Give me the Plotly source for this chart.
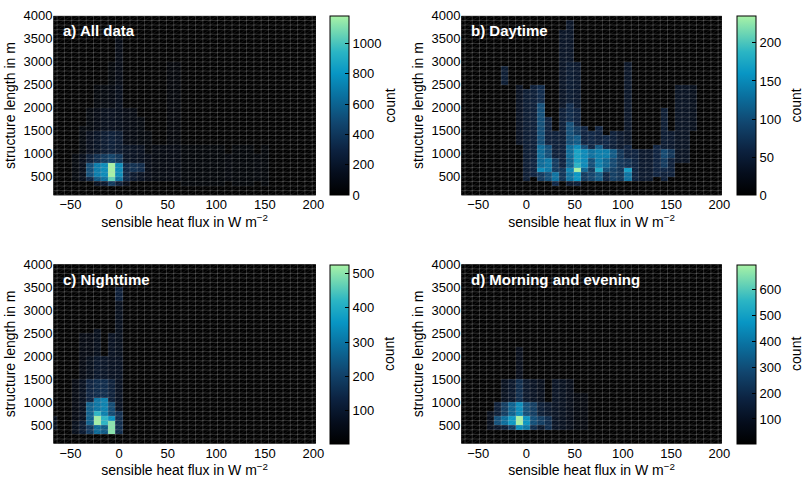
import numpy as np
import plotly.graph_objects as go

# Histogram grid: sensible heat flux bins (W m-2) and structure length bins (m)
flux_centres = np.arange(-67.5, 202.5 + 0.1, 7.5)
length_centres = np.arange(50, 4000, 100)

# Counts per bin, given as vertical runs: (flux bin centre, length from, length to, count)
all_data_runs = [
    (-45, 400, 1000, 60),
    (-37.5, 400, 1000, 120), (-37.5, 1000, 1600, 60),
    (-30, 400, 500, 300), (-30, 500, 800, 500), (-30, 800, 1000, 250), (-30, 1000, 1500, 130), (-30, 1500, 2000, 60),
    (-22.5, 300, 400, 150), (-22.5, 400, 500, 550), (-22.5, 500, 800, 700), (-22.5, 800, 1000, 350),
    (-22.5, 1000, 1500, 170), (-22.5, 1500, 2000, 90), (-22.5, 2000, 2500, 50),
    (-15, 300, 400, 200), (-15, 400, 500, 650), (-15, 500, 800, 760), (-15, 800, 1000, 400),
    (-15, 1000, 1500, 220), (-15, 1500, 2000, 120), (-15, 2000, 2500, 60),
    (-7.5, 300, 400, 400), (-7.5, 400, 500, 1050), (-7.5, 500, 800, 1180), (-7.5, 800, 1000, 450),
    (-7.5, 1000, 1500, 250), (-7.5, 1500, 2000, 130), (-7.5, 2000, 2500, 70), (-7.5, 2500, 3000, 40),
    (0, 300, 400, 250), (0, 400, 500, 650), (0, 500, 800, 750), (0, 800, 1000, 380),
    (0, 1000, 1500, 220), (0, 1500, 2500, 120), (0, 2500, 3600, 90),
    (7.5, 300, 400, 100), (7.5, 400, 800, 300), (7.5, 800, 1200, 160), (7.5, 1200, 2000, 80),
    (15, 400, 600, 200), (15, 600, 800, 350), (15, 800, 1200, 150), (15, 1200, 2000, 70),
    (22.5, 400, 600, 150), (22.5, 600, 800, 320), (22.5, 800, 1200, 140), (22.5, 1200, 1800, 60),
    (30, 400, 1000, 100), (30, 1000, 1500, 50),
    (37.5, 400, 1200, 70), (45, 400, 1200, 70),
    (52.5, 400, 1200, 80), (52.5, 1200, 3000, 45),
    (60, 400, 1200, 80), (60, 1200, 3000, 45),
    (67.5, 300, 1200, 40), (75, 300, 1200, 40), (82.5, 300, 1200, 40), (90, 300, 1200, 40),
    (97.5, 300, 1200, 40), (105, 300, 1200, 40), (112.5, 400, 1000, 55), (120, 300, 1200, 40),
    (127.5, 300, 1200, 40), (135, 300, 1200, 40), (142.5, 400, 1000, 50), (150, 300, 1200, 40),
]

daytime_runs = [
    (-22.5, 2500, 2900, 45),
    (-7.5, 1200, 2500, 30),
    (0, 400, 600, 45), (0, 600, 2400, 45),
    (7.5, 500, 900, 55), (7.5, 900, 2500, 50),
    (15, 400, 600, 80), (15, 600, 700, 150), (15, 700, 1200, 125), (15, 1200, 2100, 100), (15, 2100, 2500, 65),
    (22.5, 400, 600, 100), (22.5, 600, 900, 135), (22.5, 900, 1200, 100), (22.5, 1200, 1800, 55),
    (30, 300, 400, 60), (30, 400, 600, 130), (30, 600, 900, 80), (30, 900, 1500, 50),
    (37.5, 400, 700, 75), (37.5, 700, 1200, 55), (37.5, 1200, 2000, 50), (37.5, 2000, 3700, 35),
    (45, 300, 400, 40), (45, 400, 600, 130), (45, 600, 700, 145), (45, 700, 900, 115), (45, 900, 1200, 125),
    (45, 1200, 1700, 100), (45, 1700, 2100, 65), (45, 2100, 3000, 45), (45, 3000, 3900, 35),
    (52.5, 300, 400, 50), (52.5, 400, 600, 160), (52.5, 600, 700, 235), (52.5, 700, 800, 185),
    (52.5, 800, 1100, 170), (52.5, 1100, 1200, 150), (52.5, 1200, 1400, 110), (52.5, 1400, 1600, 80),
    (52.5, 1600, 2000, 55), (52.5, 2000, 3000, 40),
    (60, 400, 600, 80), (60, 600, 700, 120), (60, 700, 1100, 150), (60, 1100, 1200, 100), (60, 1200, 1600, 55),
    (67.5, 400, 600, 90), (67.5, 600, 700, 80), (67.5, 700, 900, 100), (67.5, 900, 1100, 130), (67.5, 1100, 1500, 60),
    (75, 400, 600, 110), (75, 600, 700, 175), (75, 700, 1100, 140), (75, 1100, 1200, 110), (75, 1200, 1600, 55),
    (82.5, 400, 600, 60), (82.5, 600, 700, 100), (82.5, 700, 900, 120), (82.5, 900, 1100, 140), (82.5, 1100, 1400, 60),
    (90, 400, 700, 85), (90, 700, 900, 95), (90, 900, 1100, 110), (90, 1100, 1500, 50),
    (97.5, 400, 1100, 75), (97.5, 1100, 1500, 40),
    (105, 400, 600, 130), (105, 600, 700, 165), (105, 700, 900, 70), (105, 900, 1200, 55), (105, 1200, 3000, 35),
    (112.5, 400, 1100, 55), (120, 400, 1100, 40), (127.5, 400, 1100, 40),
    (135, 500, 1200, 55),
    (142.5, 400, 600, 50), (142.5, 600, 700, 60), (142.5, 700, 900, 80), (142.5, 900, 1100, 95), (142.5, 1100, 2000, 45),
    (150, 500, 900, 50), (150, 900, 1100, 75), (150, 1100, 1500, 40),
    (157.5, 800, 2500, 32), (165, 800, 2500, 32), (172.5, 1500, 2500, 25),
]

nighttime_runs = [
    (-67.5, 400, 700, 60),
    (-45, 300, 600, 60), (-45, 600, 1500, 40),
    (-37.5, 300, 600, 100), (-37.5, 600, 1500, 70), (-37.5, 1500, 2500, 40),
    (-30, 300, 500, 180), (-30, 500, 1000, 260), (-30, 1000, 1500, 130), (-30, 1500, 2000, 60), (-30, 2000, 2500, 40),
    (-22.5, 300, 500, 280), (-22.5, 500, 700, 520), (-22.5, 700, 800, 420), (-22.5, 800, 1100, 300),
    (-22.5, 1100, 1500, 150), (-22.5, 1500, 2000, 90), (-22.5, 2000, 2600, 60),
    (-15, 300, 500, 250), (-15, 500, 700, 420), (-15, 700, 1100, 320), (-15, 1100, 1500, 150), (-15, 1500, 2000, 80),
    (-7.5, 300, 600, 500), (-7.5, 600, 700, 350), (-7.5, 700, 1000, 220), (-7.5, 1000, 1500, 120), (-7.5, 1500, 2500, 70),
    (0, 300, 800, 150), (0, 800, 2000, 70), (0, 2000, 3200, 60), (0, 3200, 3500, 110),
]

morning_evening_runs = [
    (-37.5, 400, 800, 80),
    (-30, 400, 500, 120), (-30, 500, 700, 300), (-30, 700, 1000, 150),
    (-22.5, 400, 500, 150), (-22.5, 500, 700, 380), (-22.5, 700, 1000, 250), (-22.5, 1000, 1500, 90),
    (-15, 400, 500, 250), (-15, 500, 700, 480), (-15, 700, 1000, 350), (-15, 1000, 1500, 120),
    (-7.5, 400, 500, 450), (-7.5, 500, 700, 695), (-7.5, 700, 1000, 450), (-7.5, 1000, 1500, 200), (-7.5, 1500, 2200, 70),
    (0, 400, 500, 400), (0, 500, 700, 470), (0, 700, 1000, 300), (0, 1000, 1500, 120),
    (7.5, 400, 500, 200), (7.5, 500, 700, 300), (7.5, 700, 1000, 250), (7.5, 1000, 1500, 100),
    (15, 400, 500, 120), (15, 500, 700, 250), (15, 700, 1000, 150), (15, 1000, 1500, 80),
    (22.5, 400, 700, 200), (22.5, 700, 1000, 120),
    (30, 400, 1500, 100), (37.5, 400, 1500, 90), (45, 400, 1500, 70),
    (52.5, 400, 1200, 40), (60, 400, 1200, 40),
]

panel_titles = ["a) All data", "b) Daytime", "c) Nighttime", "d) Morning and evening"]
panel_runs = [all_data_runs, daytime_runs, nighttime_runs, morning_evening_runs]
colour_limits = [(0, 1180), (0, 235), (4, 526), (5, 695)]
colour_ticks = [[0, 200, 400, 600, 800, 1000], [0, 50, 100, 150, 200],
                [100, 200, 300, 400, 500], [100, 200, 300, 400, 500, 600]]

x_ticks = [-50, 0, 50, 100, 150, 200]
y_ticks = [500, 1000, 1500, 2000, 2500, 3000, 3500, 4000]
x_range = [-67.5, 202.5]
y_range = [100, 4000]

colourscale = [
    [0.00, "#000000"], [0.12, "#050d1c"], [0.25, "#0c2240"], [0.40, "#11456e"],
    [0.55, "#0a6f9e"], [0.68, "#0896c4"], [0.80, "#2bb5c4"], [0.90, "#6ad4b4"], [1.00, "#a8f2a6"],
]

FONT = "Liberation Sans, Arial, Helvetica, sans-serif"


def bin_counts(runs):
    z = np.zeros((len(length_centres), len(flux_centres)))
    for fx, lo, hi, n in runs:
        col = int(np.argmin(np.abs(flux_centres - fx)))
        rows = (length_centres > lo) & (length_centres < hi)
        z[rows, col] = n
    return z


def mesh_lines():
    xe = np.concatenate([flux_centres - 3.75, [flux_centres[-1] + 3.75]])
    ye = np.arange(0, 4001, 100)
    gx, gy, dx, dy = [], [], [], []
    for x in xe:
        gx += [x, x, None]
        gy += [ye[0], ye[-1], None]
    for y in ye:
        gx += [xe[0], xe[-1], None]
        gy += [y, y, None]
    for i in range(len(xe) - 1):
        for j in range(len(ye) - 1):
            dx += [xe[i], xe[i + 1], None]
            dy += [ye[j], ye[j + 1], None]
    return gx, gy, dx, dy


# panel placement in pixels (left, right, bottom, top, colour bar left edge)
W, H = 805, 484
panels = [
    (54, 319, 191, 9, 333),
    (466, 729, 191, 9, 744),
    (54, 319, 443, 261, 333),
    (466, 729, 443, 261, 744),
]

fig = go.Figure()
gx, gy, dx, dy = mesh_lines()

for p, (runs, title, (cmin, cmax), cticks) in enumerate(zip(panel_runs, panel_titles, colour_limits, colour_ticks)):
    l, r, b, t, cbx = panels[p]
    suffix = "" if p == 0 else str(p + 1)
    xa, ya = "x" + suffix, "y" + suffix
    fig.add_trace(go.Heatmap(
        x=flux_centres, y=length_centres, z=bin_counts(runs),
        zmin=cmin, zmax=cmax, colorscale=colourscale, xaxis=xa, yaxis=ya,
        hoverinfo="skip",
        colorbar=dict(
            x=cbx / W, xanchor="left", xpad=0, ypad=0,
            y=1 - b / H, yanchor="bottom", len=(b - t) / H, lenmode="fraction",
            thickness=19, thicknessmode="pixels",
            outlinecolor="black", outlinewidth=1,
            tickvals=cticks, ticks="inside", ticklen=4, tickcolor="black",
            tickfont=dict(family=FONT, size=13, color="black"),
        ),
    ))
    fig.add_trace(go.Scatter(x=gx, y=gy, mode="lines", xaxis=xa, yaxis=ya, hoverinfo="skip",
                             line=dict(color="rgba(200,200,200,0.24)", width=1), showlegend=False))
    fig.add_trace(go.Scatter(x=dx, y=dy, mode="lines", xaxis=xa, yaxis=ya, hoverinfo="skip",
                             line=dict(color="rgba(200,200,200,0.16)", width=0.7), showlegend=False))

    fig.layout["xaxis" + suffix] = dict(
        domain=[l / W, r / W], anchor=ya, range=x_range, tickvals=x_ticks,
        ticktext=[str(v).replace("-", "\u2212") for v in x_ticks],
        showgrid=False, zeroline=False, ticks="", showline=False,
        tickfont=dict(family=FONT, size=13, color="black"),
        title=dict(text="sensible heat flux in W m<sup>\u22122</sup>", standoff=4,
                   font=dict(family=FONT, size=14, color="black")),
    )
    fig.layout["yaxis" + suffix] = dict(
        domain=[1 - b / H, 1 - t / H], anchor=xa, range=y_range, tickvals=y_ticks,
        showgrid=False, zeroline=False, ticks="", showline=False,
        tickfont=dict(family=FONT, size=13, color="black"),
        title=dict(text="structure length in m", standoff=4,
                   font=dict(family=FONT, size=14, color="black")),
    )
    fig.add_annotation(
        text="<b>" + title + "</b>", x=(l + 8) / W, y=1 - (t + 15) / H, xref="paper", yref="paper",
        xanchor="left", yanchor="middle", showarrow=False,
        font=dict(family=FONT, size=15, color="white"),
    )
    # colour bar label
    fig.add_annotation(
        text="count", textangle=-90, x=(cbx + 60) / W, y=1 - (b + t) / 2 / H,
        xref="paper", yref="paper", xanchor="center", yanchor="middle", showarrow=False,
        font=dict(family=FONT, size=14, color="black"),
    )

fig.update_layout(
    width=W, height=H, margin=dict(l=0, r=0, t=0, b=0),
    paper_bgcolor="white", plot_bgcolor="black", showlegend=False,
)

fig.write_html("out.html")
